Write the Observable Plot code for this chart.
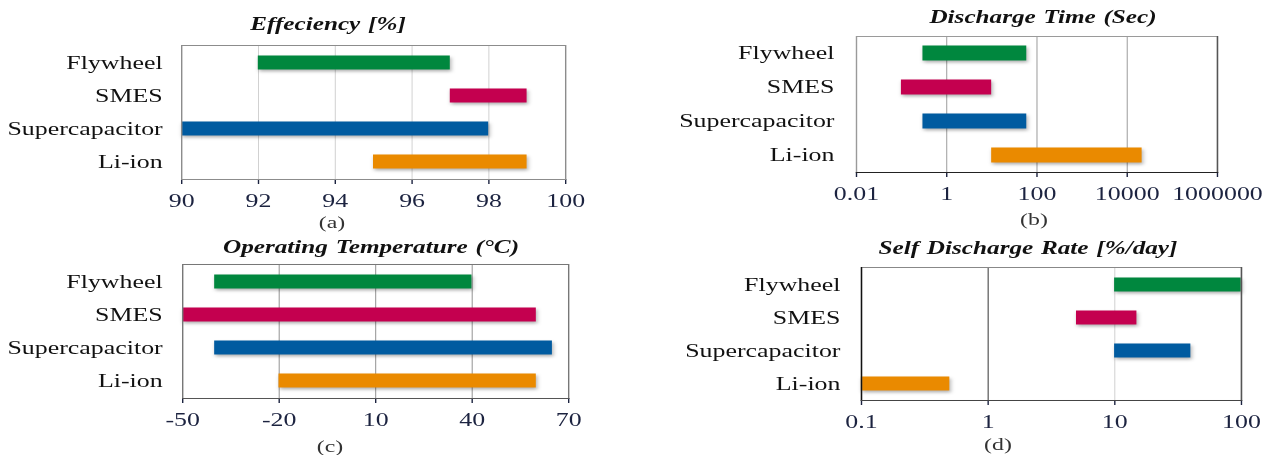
<!DOCTYPE html>
<html><head><meta charset="utf-8">
<script src="https://cdn.jsdelivr.net/npm/d3@7"></script>
<script src="https://cdn.jsdelivr.net/npm/@observablehq/plot@0.6"></script>
<style>
body{margin:0;background:#fff;}
#wrap{position:relative;width:905px;height:455px;transform:scaleX(1.4);transform-origin:0 0;font-family:"Liberation Serif",serif;}
.panel{position:absolute;}
.title{position:absolute;transform:translate(-50%,-50%);font-weight:bold;font-style:italic;font-size:18px;white-space:nowrap;color:#111;word-spacing:1px;}
.cap{position:absolute;transform:translate(-50%,-50%);font-size:17px;color:#333;}
</style></head><body><div id="wrap"></div>
<script>
const S = 1.4;
const techs = ["Flywheel", "SMES", "Supercapacitor", "Li-ion"];
const colors = ["#00873E", "#C4004F", "#005BA0", "#EA8A00"];

const effLow = [92, 97, 90, 95];
const effHigh = [97, 99, 98, 99];
const effTicks = [90, 92, 94, 96, 98, 100];
const effGrid = [92, 94, 96, 98];

const dischargeLow = [0.3, 0.1, 0.3, 10];
const dischargeHigh = [60, 10, 60, 21600];
const dischargeTicks = [0.01, 1, 100, 10000, 1000000];
const dischargeGrid = [1, 100, 10000];

const tempLow = [-40, -50, -40, -20];
const tempHigh = [40, 60, 65, 60];
const tempTicks = [-50, -20, 10, 40, 70];
const tempGrid = [-20, 10, 40];

const selfLow = [10, 5, 10, 0.1];
const selfHigh = [100, 15, 40, 0.5];
const selfTicks = [0.1, 1, 10, 100];
const selfGrid = [1, 10];
const selfGridColors = ["#111111", "#c8c8c8"];

const wrap = document.getElementById("wrap");

function panel(o) {
  const rows = techs.map((t, i) => ({tech: t, low: o.low[i], high: o.high[i], color: colors[i]}));
  const width = o.width / S;
  const marks = [];
  o.grid.forEach((g, i) => {
    marks.push(Plot.ruleX([g], {stroke: o.gridColors[i], strokeWidth: 1 / S}));
  });
  marks.push(Plot.barX(rows, {y: "tech", x1: "low", x2: "high", fill: "color", insetTop: 9.5, insetBottom: 9.5}));
  marks.push(Plot.frame({stroke: o.frameColor}));
  if (o.rightColor) marks.push(Plot.frame({anchor: "right", stroke: o.rightColor}));
  if (o.leftColor) marks.push(Plot.frame({anchor: "left", stroke: o.leftColor}));
  marks.push(Plot.frame({anchor: "bottom", stroke: o.bottomColor}));
  const chart = Plot.plot({
    width,
    height: o.height,
    marginLeft: (o.frameL - o.left) / S,
    marginRight: (o.left + o.width - o.frameR) / S,
    marginTop: o.frameT - o.top,
    marginBottom: o.top + o.height - o.frameB,
    style: {fontFamily: "Liberation Serif, serif", fontSize: "18.5px", color: "#1c2340", background: "transparent", overflow: "visible"},
    x: Object.assign({label: null, tickSize: 5, tickPadding: 9, tickFormat: d => String(d)}, o.x),
    y: {domain: techs, label: null, padding: 0, tickSize: 0, tickPadding: o.ypad / S},
    color: {type: "identity"},
    marks
  });
  chart.classList.add("panel");
  chart.style.left = (o.left / S) + "px";
  chart.style.top = o.top + "px";
  wrap.appendChild(chart);
  d3.select(chart).selectAll('g[aria-label="y-axis tick label"] text, g[aria-label="y-axis tick label"]').style("fill", "#111");
  d3.select(chart).selectAll('g[aria-label="bar"]').style("filter", "drop-shadow(1px 2px 1.5px rgba(0,0,0,0.3))");
  const t = document.createElement("div");
  t.className = "title"; t.textContent = o.title;
  t.style.left = (o.tx / S) + "px"; t.style.top = o.ty + "px";
  wrap.appendChild(t);
  const c = document.createElement("div");
  c.className = "cap"; c.textContent = o.cap;
  c.style.left = (o.cx / S) + "px"; c.style.top = o.cy + "px";
  wrap.appendChild(c);
}

panel({left: 0, top: 0, width: 633, height: 235, frameL: 181, frameR: 565, frameT: 45, frameB: 179,
  x: {domain: [90, 100], ticks: effTicks}, low: effLow, high: effHigh,
  grid: effGrid, gridColors: effGrid.map(() => "#c9c9c9"), ypad: 19,
  frameColor: "#8c8c8c", bottomColor: "#8c8c8c",
  title: "Effeciency [%]", tx: 328, ty: 24, cap: "(a)", cx: 332, cy: 223});

panel({left: 633, top: 0, width: 634, height: 235, frameL: 856, frameR: 1217, frameT: 36, frameB: 172,
  x: {type: "log", domain: [0.01, 1000000], ticks: dischargeTicks}, low: dischargeLow, high: dischargeHigh,
  grid: dischargeGrid, gridColors: dischargeGrid.map(() => "#8a8a8a"), ypad: 22,
  frameColor: "#9a9a9a", rightColor: "#555", bottomColor: "#222",
  title: "Discharge Time (Sec)", tx: 1043, ty: 17, cap: "(b)", cx: 1034, cy: 220});

panel({left: 0, top: 230, width: 633, height: 225, frameL: 182, frameR: 568, frameT: 264, frameB: 398,
  x: {domain: [-50, 70], ticks: tempTicks}, low: tempLow, high: tempHigh,
  grid: tempGrid, gridColors: tempGrid.map(() => "#808080"), ypad: 20,
  frameColor: "#777", bottomColor: "#555",
  title: "Operating Temperature (°C)", tx: 371, ty: 247, cap: "(c)", cx: 330, cy: 447});

panel({left: 633, top: 230, width: 634, height: 225, frameL: 861, frameR: 1241, frameT: 267, frameB: 400,
  x: {type: "log", domain: [0.1, 100], ticks: selfTicks}, low: selfLow, high: selfHigh,
  grid: selfGrid, gridColors: selfGridColors, ypad: 21,
  frameColor: "#888", rightColor: "#555", leftColor: "#111", bottomColor: "#444",
  title: "Self Discharge Rate [%/day]", tx: 1028, ty: 248, cap: "(d)", cx: 998, cy: 445});
</script>
</body></html>
